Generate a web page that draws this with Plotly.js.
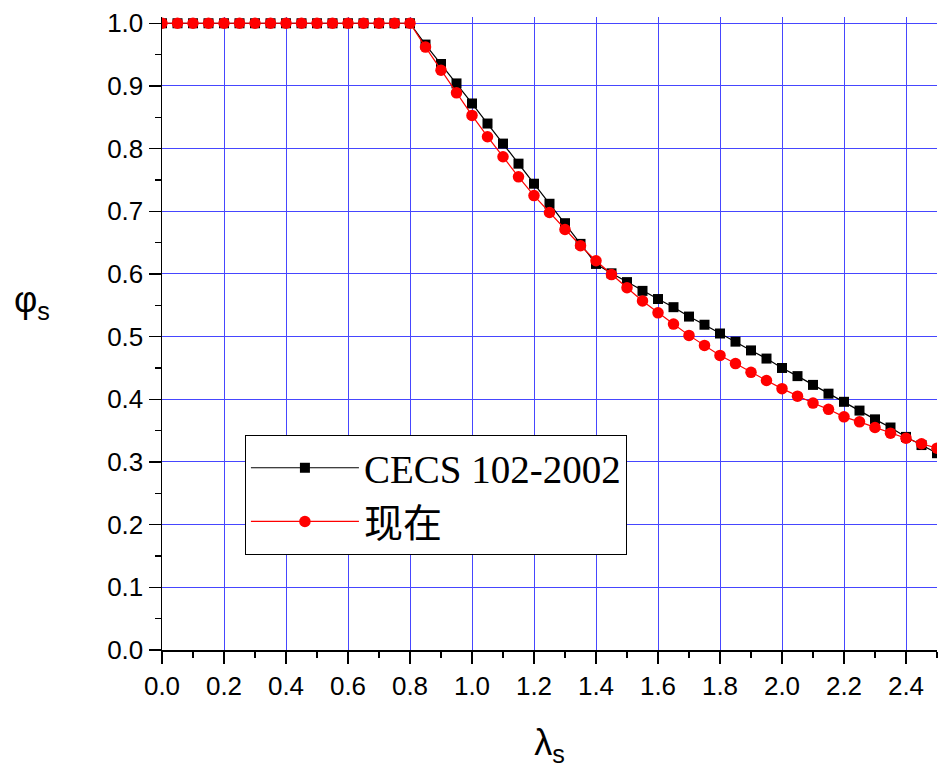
<!DOCTYPE html>
<html>
<head>
<meta charset="utf-8">
<script src="https://cdn.plot.ly/plotly-3.0.1.min.js"></script>
<style>html,body{margin:0;padding:0;background:#fff;}#chart{width:939px;height:781px;}</style>
</head>
<body>
<div id="chart"></div>
<script>
var lambdaS = [0.00,0.05,0.10,0.15,0.20,0.25,0.30,0.35,0.40,0.45,0.50,0.55,0.60,0.65,0.70,0.75,0.80,
  0.85,0.90,0.95,1.00,1.05,1.10,1.15,1.20,1.25,1.30,1.35,1.40,1.45,1.50,1.55,1.60,1.65,1.70,1.75,1.80,
  1.85,1.90,1.95,2.00,2.05,2.10,2.15,2.20,2.25,2.30,2.35,2.40,2.45,2.50];
var phiCECS = [1,1,1,1,1,1,1,1,1,1,1,1,1,1,1,1,1,
  0.966,0.935,0.904,0.872,0.840,0.808,0.776,0.744,0.712,0.681,0.648,0.616,0.601,0.587,0.573,0.560,0.547,0.532,0.519,0.505,
  0.492,0.478,0.465,0.450,0.437,0.423,0.409,0.396,0.382,0.368,0.355,0.340,0.327,0.314];
var phiNow = [1,1,1,1,1,1,1,1,1,1,1,1,1,1,1,1,1,
  0.962,0.925,0.889,0.853,0.819,0.787,0.755,0.725,0.698,0.671,0.645,0.621,0.599,0.578,0.557,0.538,0.520,0.502,0.486,0.470,
  0.457,0.443,0.430,0.417,0.405,0.394,0.384,0.372,0.364,0.355,0.346,0.338,0.329,0.322];
var seriesNames = ['CECS 102-2002', '现在'];
var xTitle = 'λ<sub>s</sub>';
var yTitle = 'φ<sub>s</sub>';

var traces = [
  {x: lambdaS, y: phiCECS, name: seriesNames[0], type: 'scatter', mode: 'lines+markers',
   line: {color: '#000000', width: 1.2}, marker: {symbol: 'square', size: 10, color: '#000000'}, cliponaxis: true},
  {x: lambdaS, y: phiNow, name: seriesNames[1], type: 'scatter', mode: 'lines+markers',
   line: {color: '#ff0000', width: 1.2}, marker: {symbol: 'circle', size: 11.5, color: '#ff0000'}, cliponaxis: true}
];

var gridCol = 'rgb(70,70,255)';
var layout = {
  width: 939, height: 781,
  margin: {l: 162, r: 2, t: 17, b: 131},
  paper_bgcolor: '#ffffff', plot_bgcolor: '#ffffff',
  font: {family: 'Liberation Sans, Arial, sans-serif', color: '#000'},
  showlegend: true,
  legend: {
    x: 0.107, y: 0.245, xanchor: 'left', yanchor: 'middle',
    bgcolor: '#ffffff', bordercolor: '#000000', borderwidth: 1,
    font: {family: 'Liberation Serif, Noto Sans CJK SC, serif', size: 39, color: '#000'},
    itemwidth: 108, tracegroupgap: 0
  },
  xaxis: {
    range: [0, 2.5], dtick: 0.2, tick0: 0, tickformat: '.1f',
    showgrid: true, gridcolor: gridCol, gridwidth: 1,
    zeroline: false, showline: true, linecolor: '#000', linewidth: 1.5,
    ticks: 'outside', ticklen: 12, tickwidth: 1.5, tickcolor: '#000',
    minor: {dtick: 0.1, ticks: 'outside', ticklen: 6, tickwidth: 1.5, tickcolor: '#000', showgrid: false},
    tickfont: {size: 26, family: 'Liberation Sans, Arial, sans-serif'},
    title: {text: xTitle, font: {size: 36, family: 'Liberation Sans, Arial, sans-serif'}, standoff: 30},
    automargin: false
  },
  yaxis: {
    range: [0, 1.01], dtick: 0.1, tick0: 0, tickformat: '.1f',
    showgrid: true, gridcolor: gridCol, gridwidth: 1,
    zeroline: false, showline: true, linecolor: '#000', linewidth: 1.5,
    ticks: 'outside', ticklen: 12, tickwidth: 1.5, tickcolor: '#000',
    minor: {dtick: 0.05, ticks: 'outside', ticklen: 6, tickwidth: 1.5, tickcolor: '#000', showgrid: false},
    tickfont: {size: 26, family: 'Liberation Sans, Arial, sans-serif'},
    automargin: false
  },
  annotations: [
    {text: yTitle, xref: 'paper', yref: 'paper', x: -0.168, y: 0.55, xanchor: 'center', yanchor: 'middle',
     showarrow: false, font: {size: 36, family: 'Liberation Sans, Arial, sans-serif', color: '#000'}}
  ]
};

Plotly.newPlot('chart', traces, layout, {displayModeBar: false, staticPlot: true});
</script>
</body>
</html>
